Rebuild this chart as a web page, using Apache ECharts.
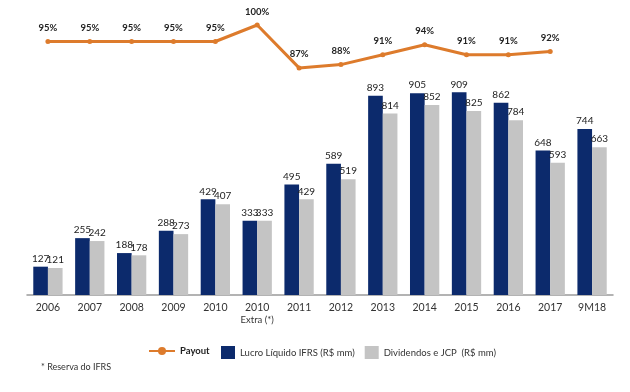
<!DOCTYPE html>
<html><head><meta charset="utf-8">
<script src="https://cdn.jsdelivr.net/npm/echarts@6/dist/echarts.min.js"></script>
<style>html,body{margin:0;padding:0;background:#fff}#c{width:630px;height:392px}</style>
</head><body><div id="c"></div>
<script>
var categories = ['2006','2007','2008','2009','2010','2010\nExtra (*)','2011','2012','2013','2014','2015','2016','2017','9M18'];
var lucro = [127,255,188,288,429,333,495,589,893,905,909,862,648,744];
var dividendos = [121,242,178,273,407,333,429,519,814,852,825,784,593,663];
var payout = [95,95,95,95,95,100,87,88,91,94,91,91,92,null];
var seriesNames = ['Payout','Lucro Líquido IFRS (R$ mm)','Dividendos e JCP  (R$ mm)'];
var footnote = '* Reserva do IFRS';

var FONT = 'Lato';
var chart = echarts.init(document.getElementById('c'), null, {renderer:'canvas'});
chart.setOption({
  animation:false,
  textStyle:{fontFamily:FONT},
  grid:[
    {left:27,right:17,top:72,bottom:97},
    {left:27,right:17,top:25,height:66}
  ],
  xAxis:[
    {type:'category',gridIndex:0,data:categories,
     axisLine:{lineStyle:{color:'#9a9a9a',width:1.5}},axisTick:{show:false},
     axisLabel:{color:'#333',fontSize:10.5,fontFamily:FONT,margin:7,interval:0,lineHeight:12,
       formatter:function(v){var p=v.split('\n');return p.length>1?p[0]+'\n{s|'+p[1]+'}':v;},
       rich:{s:{fontSize:9.5,color:'#333',fontFamily:FONT}}}},
    {type:'category',gridIndex:1,data:categories,show:false}
  ],
  yAxis:[
    {type:'value',gridIndex:0,min:0,max:1000,show:false,splitLine:{show:false}},
    {type:'value',gridIndex:1,min:80,max:100,show:false,splitLine:{show:false}}
  ],
  legend:[
    {data:[seriesNames[0]],left:143,top:341,itemWidth:26,itemHeight:10,itemGap:8,
     textStyle:{fontSize:9.5,fontWeight:'bold',color:'#222',fontFamily:FONT}},
    {data:[seriesNames[1],seriesNames[2]],left:216,top:341,itemWidth:14,itemHeight:13,itemGap:10,
     icon:'rect',textStyle:{fontSize:9.5,color:'#333',fontFamily:FONT}}
  ],
  graphic:[{type:'text',left:41,top:363,style:{text:footnote,fontSize:9,fill:'#333',fontFamily:FONT}}],
  series:[
    {name:seriesNames[0],type:'line',xAxisIndex:1,yAxisIndex:1,data:payout,
     color:'#dd7b2c',lineStyle:{width:3,color:'#dd7b2c'},symbol:'circle',symbolSize:5,
     itemStyle:{color:'#dd7b2c'},
     label:{show:true,position:'top',distance:6,formatter:'{c}%',fontSize:9.5,fontWeight:'bold',color:'#222',fontFamily:FONT}},
    {name:seriesNames[1],type:'bar',data:lucro,barGap:'0%',barCategoryGap:'30%',
     itemStyle:{color:'#0c2a6c'},
     label:{show:true,position:'top',distance:3,fontSize:10,color:'#222',fontFamily:FONT}},
    {name:seriesNames[2],type:'bar',data:dividendos,
     itemStyle:{color:'#c4c4c4'},
     label:{show:true,position:'top',distance:3,fontSize:10,color:'#222',fontFamily:FONT}}
  ]
});
</script></body></html>
